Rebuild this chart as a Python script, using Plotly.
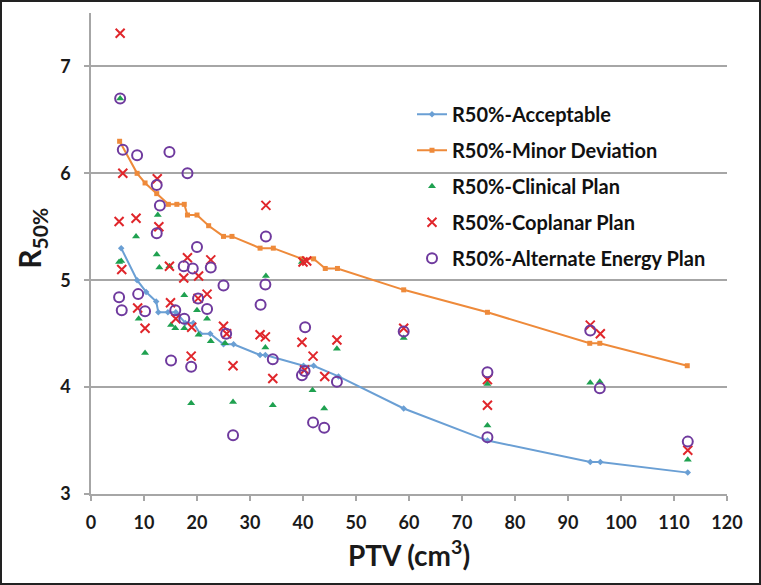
import plotly.graph_objects as go

# ---- data ----
acc_x = [5.7, 8.7, 10.4, 12.3, 12.7, 14.5, 16.0, 17.8, 19.3, 20.6, 22.5, 25.0, 26.9, 31.9, 32.9, 40.1, 42.0, 46.7, 59.0, 74.8, 94.2, 96.1, 112.6]
acc_y = [5.30, 5.00, 4.89, 4.80, 4.70, 4.70, 4.70, 4.60, 4.60, 4.50, 4.50, 4.40, 4.40, 4.30, 4.30, 4.20, 4.20, 4.10, 3.80, 3.50, 3.30, 3.30, 3.20]

minor_x = [5.4, 8.7, 10.2, 12.4, 14.6, 16.2, 17.6, 18.2, 20.0, 22.2, 25.0, 26.6, 31.9, 34.4, 39.8, 42.0, 44.2, 46.5, 59.0, 74.8, 94.1, 96.0, 112.5]
minor_y = [6.30, 6.00, 5.91, 5.81, 5.71, 5.71, 5.71, 5.61, 5.61, 5.51, 5.41, 5.41, 5.30, 5.30, 5.20, 5.20, 5.11, 5.11, 4.91, 4.70, 4.41, 4.41, 4.20]

clin_x = [5.5, 12.6, 8.5, 12.4, 5.3, 5.7, 12.9, 14.8, 17.6, 9.0, 10.2, 15.1, 15.9, 17.6, 20.0, 20.3, 21.9, 22.6, 25.3, 18.9, 26.8, 33.0, 32.9, 34.3, 39.8, 41.8, 44.0, 46.4, 59.0, 74.8, 74.8, 94.2, 96.0, 112.6]
clin_y = [6.70, 5.61, 5.41, 5.24, 5.17, 5.18, 5.12, 5.13, 4.86, 4.64, 4.32, 4.58, 4.55, 4.55, 4.72, 4.49, 4.64, 4.43, 4.41, 3.85, 3.86, 5.04, 4.37, 3.83, 5.17, 3.97, 3.80, 4.36, 4.46, 4.03, 3.64, 4.04, 4.05, 3.32]

copl_x = [5.5, 6.0, 12.5, 33.0, 5.3, 8.5, 12.8, 18.2, 22.6, 5.8, 14.8, 17.5, 20.3, 8.8, 10.2, 15.0, 20.2, 21.9, 16.0, 19.0, 18.9, 25.0, 25.6, 31.9, 32.9, 26.8, 34.3, 40.0, 40.7, 39.8, 41.9, 40.3, 44.1, 46.4, 59.0, 74.8, 74.8, 94.2, 96.1, 112.6]
copl_y = [7.31, 6.00, 5.95, 5.70, 5.55, 5.58, 5.50, 5.21, 5.19, 5.10, 5.13, 5.02, 5.04, 4.74, 4.55, 4.79, 4.83, 4.87, 4.64, 4.56, 4.29, 4.57, 4.50, 4.49, 4.47, 4.20, 4.08, 5.17, 5.18, 4.42, 4.29, 4.16, 4.10, 4.44, 4.55, 4.07, 3.83, 4.58, 4.50, 3.41]

alt_x = [5.5, 6.0, 8.7, 14.8, 18.2, 12.4, 13.0, 33.0, 12.4, 20.0, 17.5, 19.2, 22.6, 5.3, 8.9, 5.8, 10.2, 20.2, 15.9, 21.9, 17.6, 15.1, 18.9, 25.0, 32.9, 32.0, 25.5, 34.3, 26.8, 40.4, 39.8, 40.3, 46.4, 41.9, 44.0, 59.0, 74.8, 74.8, 94.2, 96.0, 112.6]
alt_y = [6.70, 6.22, 6.17, 6.20, 6.00, 5.89, 5.70, 5.41, 5.44, 5.31, 5.13, 5.11, 5.12, 4.84, 4.87, 4.72, 4.71, 4.83, 4.72, 4.73, 4.64, 4.25, 4.19, 4.95, 4.96, 4.77, 4.50, 4.26, 3.55, 4.56, 4.11, 4.15, 4.05, 3.67, 3.62, 4.52, 4.14, 3.53, 4.53, 3.99, 3.49]

x_ticks = [0, 10, 20, 30, 40, 50, 60, 70, 80, 90, 100, 110, 120]
y_ticks = [3, 4, 5, 6, 7]

FONT = "Lato"
W, H = 761, 585
ML, MR, MT, MB = 91, 34, 13, 91
pw = W - ML - MR
ph = H - MT - MB

fig = go.Figure()
fig.add_trace(go.Scatter(x=acc_x, y=acc_y, mode="lines+markers", name="R50%-Acceptable",
                         line=dict(color="#6A9FD4", width=2),
                         marker=dict(symbol="diamond", size=5, color="#6A9FD4"),
                         legendgroup="a"))
fig.add_trace(go.Scatter(x=minor_x, y=minor_y, mode="lines+markers", name="R50%-Minor Deviation",
                         line=dict(color="#EE8A3A", width=2),
                         marker=dict(symbol="square", size=5, color="#EE8A3A"),
                         legendgroup="b"))
fig.add_trace(go.Scatter(x=clin_x, y=clin_y, mode="markers", name="R50%-Clinical Plan",
                         marker=dict(symbol="triangle-up", size=7, color="#1FA150"),
                         legendgroup="c"))
fig.add_trace(go.Scatter(x=copl_x, y=copl_y, mode="markers", name="R50%-Coplanar Plan",
                         marker=dict(symbol="x-thin-open", size=9, color="#E0262B",
                                     line=dict(width=2, color="#E0262B")),
                         legendgroup="d"))
fig.add_trace(go.Scatter(x=alt_x, y=alt_y, mode="markers", name="R50%-Alternate Energy Plan",
                         marker=dict(symbol="circle-open", size=10, color="#6F3A9E",
                                     line=dict(width=2, color="#6F3A9E")),
                         legendgroup="e"))

fig.update_layout(
    width=W, height=H,
    margin=dict(l=ML, r=MR, t=MT, b=MB),
    paper_bgcolor="white", plot_bgcolor="white",
    font=dict(family=FONT, color="#1a1a1a"),
    showlegend=True,
    legend=dict(x=(412 - ML) / pw, y=(494.3 - 95) / ph, xanchor="left", yanchor="top",
                bgcolor="rgba(0,0,0,0)",
                font=dict(family=FONT, size=20, color="#111", weight="bold"),
                traceorder="grouped", tracegroupgap=7, itemwidth=30),
    xaxis=dict(range=[0, 120], tickvals=x_ticks, ticktext=[str(v) for v in x_ticks],
               showgrid=False, zeroline=False, showline=True, linecolor="#A6A6A6", linewidth=1.5,
               ticks="outside", ticklen=5, tickcolor="#A6A6A6", tickwidth=1.5,
               ticklabelstandoff=7,
               tickfont=dict(family=FONT, size=18, color="#1a1a1a", weight="bold"),
               title=dict(text="<b>PTV (cm<sup>3</sup>)</b>", font=dict(family=FONT, size=28, color="#1a1a1a"),
                          standoff=14)),
    yaxis=dict(range=[3, 7.5], tickvals=y_ticks, ticktext=[str(v) for v in y_ticks],
               showgrid=True, gridcolor="#A6A6A6", gridwidth=1.5, zeroline=False,
               showline=True, linecolor="#A6A6A6", linewidth=1.5,
               ticks="outside", ticklen=5, tickcolor="#A6A6A6", tickwidth=1.5,
               ticklabelstandoff=10,
               tickfont=dict(family=FONT, size=18, color="#1a1a1a", weight="bold")),
)

# rotated y-axis title placed as in the reference (slightly above centre)
fig.add_annotation(text="<b>R<sub>50%</sub></b>", textangle=-90, showarrow=False,
                   xref="paper", yref="paper", x=(31 - ML) / pw, y=(494.3 - 238) / ph,
                   xanchor="center", yanchor="middle",
                   font=dict(family=FONT, size=30, color="#1a1a1a"))

# thin dark frame around the whole picture
fig.add_shape(type="rect", xref="paper", yref="paper",
              x0=(-ML + 1) / pw, x1=1 + (MR - 1) / pw,
              y0=(-MB + 1) / ph, y1=1 + (MT - 1) / ph,
              line=dict(color="#222", width=2), fillcolor="rgba(0,0,0,0)", layer="above")

fig.write_html("out.html", config={"displayModeBar": False},
               post_script="document.body.style.margin='0';document.body.style.overflow='hidden';")
